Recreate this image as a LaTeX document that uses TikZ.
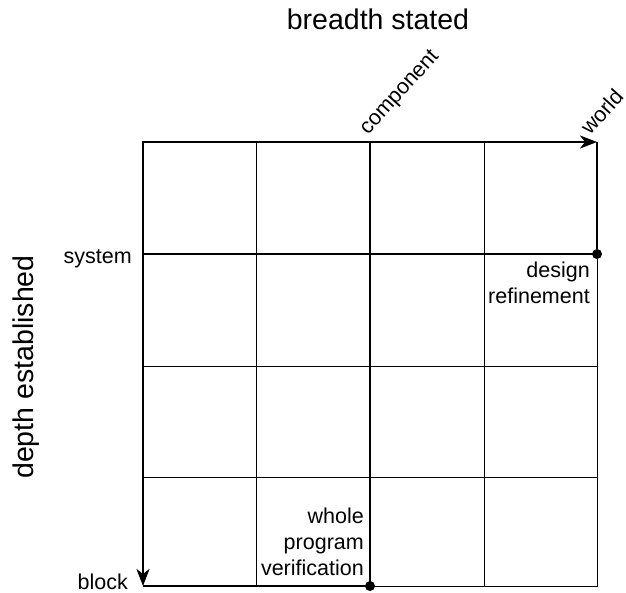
\documentclass[tikz,border=0pt]{standalone}
\usepackage{fontspec}
\setmainfont{Liberation Sans}
\usetikzlibrary{arrows.meta}
\begin{document}
\begin{tikzpicture}[x=1pt,y=-1pt,
  gridline/.style={line width=0.9pt},
  midline/.style={line width=1.4pt},
  axisline/.style={line width=2.6pt, -{Stealth[length=17pt,width=13pt,inset=5pt]}},
  pathline/.style={line width=2pt},
  waypoint/.style={circle, fill=black, inner sep=0pt, minimum size=10pt},
  small/.style={font=\fontsize{21.5}{26}\selectfont, inner sep=0pt},
  title/.style={font=\fontsize{28.5}{32}\selectfont, inner sep=0pt}]
\useasboundingbox (0,0) rectangle (626,592);

% grid coordinates
\coordinate (tl) at (143,142);
\coordinate (tr) at (597,142);
\coordinate (bl) at (143,586);
\coordinate (br) at (597,586);

% thin grid
\foreach \x in {256,484} \draw[gridline] (\x,142) -- (\x,586);
\foreach \y in {366,477} \draw[gridline] (143,\y) -- (597,\y);
\draw[gridline] (597,254) -- (br) -- (bl);
% emphasised column and row
\draw[midline] (370,142) -- (370,586);
\draw[midline] (143,254) -- (597,254);

% waypoints
\node[waypoint] (dr) at (597,254) {};
\node[waypoint] (wpv) at (370,586) {};

% path segments
\draw[pathline] (tr) -- (dr);
\draw[pathline] (bl) -- (wpv);

% axes
\draw[axisline] (141.7,142) -- (tr);
\draw[axisline] (143,140.7) -- (bl);

% axis titles
\node[title, anchor=base] (bt) at (378,29) {breadth stated};
\node[title, rotate=90, anchor=base] (de) at (33,367) {depth established};

% tick labels
\node[small, anchor=base east] (sys) at (132,263) {system};
\node[small, anchor=base east] (blk) at (128,589) {block};
\node[small, anchor=base west, rotate=48] (comp) at (368,136) {component};
\node[small, anchor=base west, rotate=48] (wld) at (590,136) {world};

% waypoint labels (base anchor sits on the last line)
\node[small, anchor=base east, align=right] (drl) at (590,303) {design\\refinement};
\node[small, anchor=base east, align=right] (wpvl) at (364,575) {whole\\program\\verification};
\end{tikzpicture}
\end{document}
